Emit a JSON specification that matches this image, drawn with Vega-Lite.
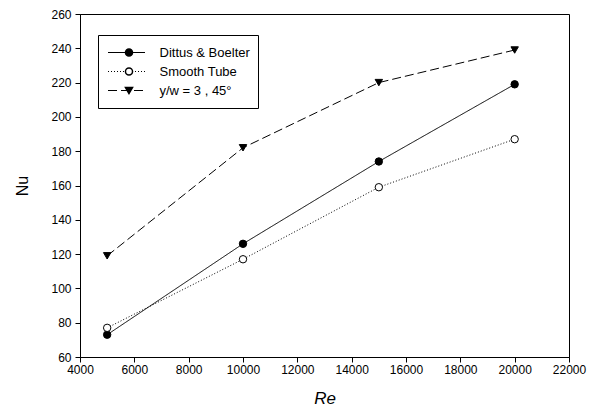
{
  "$schema": "https://vega.github.io/schema/vega-lite/v6.json",
  "width": 489,
  "height": 343,
  "autosize": {"type": "none"},
  "padding": {"left": 80, "top": 14, "right": 26, "bottom": 61},
  "background": "white",
  "config": {
    "font": "Liberation Sans",
    "view": {"stroke": "black", "strokeWidth": 1},
    "axis": {
      "grid": false,
      "domainColor": "black",
      "tickColor": "black",
      "tickSize": 5,
      "labelColor": "black",
      "labelFont": "Liberation Sans",
      "labelFontSize": 12,
      "titleFont": "Liberation Sans",
      "titleColor": "black",
      "titleFontWeight": "normal",
      "labelFlush": false,
      "labelOverlap": false
    }
  },
  "data": {
    "values": [
      {"Re": 5000, "Nu": 73, "series": "Dittus & Boelter"},
      {"Re": 10000, "Nu": 126, "series": "Dittus & Boelter"},
      {"Re": 15000, "Nu": 174, "series": "Dittus & Boelter"},
      {"Re": 20000, "Nu": 219, "series": "Dittus & Boelter"},
      {"Re": 5000, "Nu": 77, "series": "Smooth Tube"},
      {"Re": 10000, "Nu": 117, "series": "Smooth Tube"},
      {"Re": 15000, "Nu": 159, "series": "Smooth Tube"},
      {"Re": 20000, "Nu": 187, "series": "Smooth Tube"},
      {"Re": 5000, "Nu": 119, "series": "y/w = 3 , 45°"},
      {"Re": 10000, "Nu": 182, "series": "y/w = 3 , 45°"},
      {"Re": 15000, "Nu": 220, "series": "y/w = 3 , 45°"},
      {"Re": 20000, "Nu": 239, "series": "y/w = 3 , 45°"}
    ]
  },
  "encoding": {
    "x": {
      "field": "Re",
      "type": "quantitative",
      "scale": {"domain": [4000, 22000], "nice": false, "zero": false},
      "axis": {
        "values": [4000, 6000, 8000, 10000, 12000, 14000, 16000, 18000, 20000, 22000],
        "format": "d",
        "labelPadding": 2,
        "title": "Re",
        "titleFontSize": 17,
        "titleFontStyle": "italic",
        "titleX": 244.5,
        "titleY": 41,
        "titleAlign": "center",
        "titleBaseline": "middle"
      }
    },
    "y": {
      "field": "Nu",
      "type": "quantitative",
      "scale": {"domain": [60, 260], "nice": false, "zero": false},
      "axis": {
        "values": [60, 80, 100, 120, 140, 160, 180, 200, 220, 240, 260],
        "labelPadding": 4,
        "title": "Nu",
        "titleFontSize": 16,
        "titleAngle": -90,
        "titleX": -58,
        "titleY": 171.5,
        "titleAlign": "center",
        "titleBaseline": "middle"
      }
    }
  },
  "layer": [
    {
      "mark": {"type": "line", "stroke": "black", "strokeWidth": 1},
      "encoding": {
        "strokeDash": {
          "field": "series",
          "type": "nominal",
          "scale": {
            "domain": ["Dittus & Boelter", "Smooth Tube", "y/w = 3 , 45°"],
            "range": [[1, 0], [1, 2], [9, 4]]
          },
          "legend": {
            "orient": "none",
            "legendX": 18,
            "legendY": 21,
            "title": null,
            "padding": 8,
            "strokeColor": "black",
            "fillColor": "white",
            "symbolType": "stroke",
            "symbolSize": 1369,
            "symbolStrokeColor": "black",
            "symbolStrokeWidth": 1,
            "symbolOffset": 1.5,
            "clipHeight": 19,
            "rowPadding": 0,
            "labelOffset": 14,
            "labelFont": "Liberation Sans",
            "labelFontSize": 13,
            "labelColor": "black",
            "labelLimit": 200
          }
        }
      }
    },
    {
      "mark": {"type": "point", "filled": true, "stroke": "black", "strokeWidth": 1, "opacity": 1},
      "encoding": {
        "shape": {
          "field": "series",
          "type": "nominal",
          "scale": {"range": ["circle", "circle", "triangle-down"]},
          "legend": {
            "orient": "none",
            "legendX": 18,
            "legendY": 21,
            "title": null,
            "padding": 8,
            "symbolSize": 50,
            "symbolOffset": 16.5,
            "clipHeight": 19,
            "rowPadding": 0,
            "labelOffset": 14,
            "labelFont": "Liberation Sans",
            "labelFontSize": 13,
            "labelExpr": "''",
            "labelLimit": 200,
            "encode": {
              "symbols": {
                "update": {
                  "fill": {"signal": "datum.value === 'Smooth Tube' ? 'white' : 'black'"},
                  "stroke": {"value": "black"},
                  "strokeWidth": {"value": 1},
                  "opacity": {"value": 1}
                }
              }
            }
          }
        },
        "fill": {
          "field": "series",
          "type": "nominal",
          "scale": {"range": ["black", "white", "black"]},
          "legend": null
        },
        "size": {"value": 55}
      }
    }
  ]
}
